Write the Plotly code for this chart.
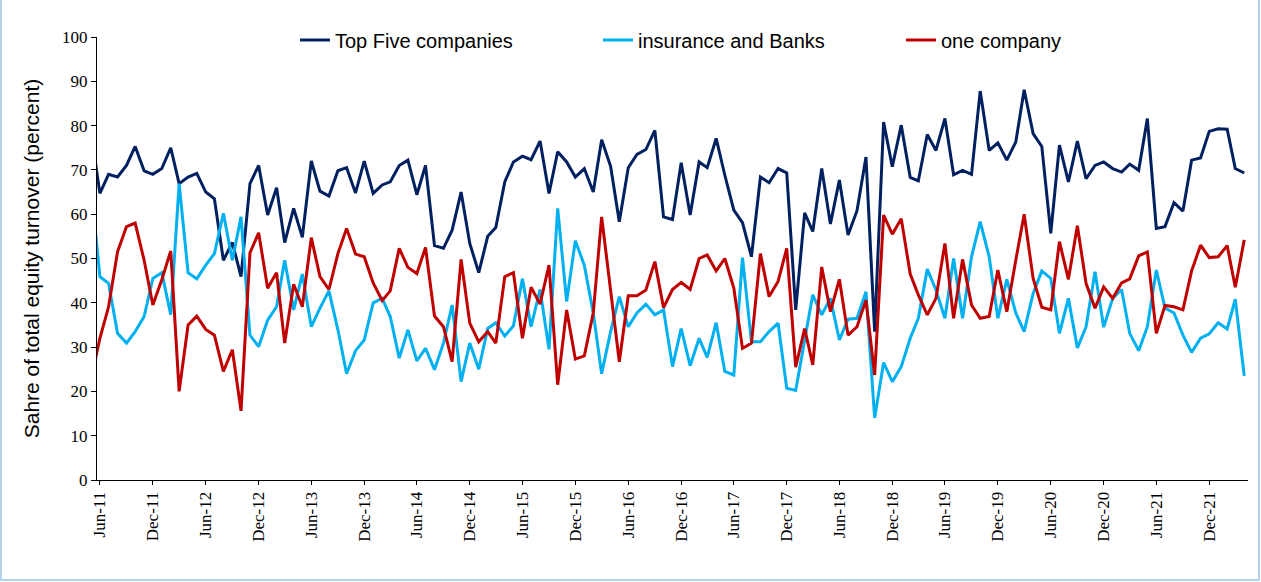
import pandas as pd
import plotly.graph_objects as go

# Monthly observations: May-11 (partly clipped at the axis) .. Apr-22
months = pd.date_range("2011-05-01", periods=132, freq="MS")

top_five = [
    78.7,
    64.7, 69.0, 68.4, 71.0, 75.3, 69.8, 69.0, 70.3, 75.0, 66.9, 68.4, 69.2,
    65.0, 63.5, 49.6, 53.6, 45.9, 66.9, 71.0, 59.8, 66.0, 53.6, 61.3, 54.8,
    72.0, 65.2, 64.1, 69.8, 70.5, 64.8, 72.0, 64.7, 66.6, 67.3, 71.0, 72.2,
    64.4, 71.0, 52.9, 52.3, 56.4, 65.0, 53.4, 46.8, 55.0, 57.0, 67.3, 71.8,
    73.1, 72.3, 76.5, 64.7, 74.1, 71.8, 68.4, 70.3, 65.0, 76.8, 70.8, 58.3,
    70.5, 73.5, 74.6, 78.9, 59.4, 58.8, 71.6, 59.8, 71.8, 70.5, 77.1, 68.8,
    60.9, 58.1, 50.4, 68.4, 67.1, 70.3, 69.3, 38.4, 60.3, 56.1, 70.3, 57.8,
    67.7, 55.3, 60.8, 72.9, 33.5, 80.8, 70.7, 80.1, 68.3, 67.5, 78.0, 74.4,
    81.6, 68.9, 69.9, 69.0, 87.8, 74.4, 76.1, 72.2, 76.3, 88.1, 78.2, 75.3,
    55.7, 75.6, 67.3, 76.5, 68.0, 71.0, 71.8, 70.3, 69.5, 71.3, 69.9, 81.6,
    56.8, 57.2, 62.6, 60.7, 72.2, 72.7, 78.7, 79.3, 79.2, 70.3, 69.3,
]

insurance_banks = [
    66.7,
    45.9, 44.4, 33.1, 30.9, 33.5, 36.9, 45.5, 46.8, 37.3, 66.9, 46.8, 45.4,
    48.5, 51.1, 60.2, 49.6, 59.4, 32.7, 30.1, 36.1, 39.1, 49.6, 38.4, 46.5,
    34.6, 38.8, 42.7, 33.9, 24.0, 29.2, 31.6, 40.0, 41.0, 36.9, 27.5, 33.9,
    26.9, 29.7, 24.9, 30.9, 39.5, 22.2, 30.9, 25.0, 34.2, 35.5, 32.5, 34.8,
    45.4, 34.6, 43.0, 29.5, 61.3, 40.3, 54.0, 48.5, 37.7, 24.0, 33.5, 41.4,
    34.6, 37.7, 39.7, 37.3, 38.4, 25.6, 34.2, 25.8, 32.0, 27.7, 35.5, 24.5,
    23.7, 50.2, 31.2, 31.2, 33.5, 35.4, 20.7, 20.2, 31.6, 41.8, 37.3, 41.0,
    31.6, 36.3, 36.5, 42.5, 14.0, 26.5, 22.2, 25.6, 32.0, 36.5, 47.6, 42.9,
    36.5, 50.0, 36.5, 50.4, 58.3, 50.4, 36.5, 45.3, 37.7, 33.5, 42.1, 47.2,
    45.5, 33.1, 41.0, 29.8, 34.6, 47.0, 34.5, 41.0, 43.0, 33.1, 29.2, 34.6,
    47.4, 38.8, 37.7, 32.7, 28.8, 32.0, 33.0, 35.5, 34.1, 40.8, 23.5,
]

one_company = [
    22.5,
    32.0, 39.1, 51.5, 57.2, 58.0, 49.6, 39.5, 45.2, 51.7, 20.0, 35.0, 37.0,
    34.0, 32.7, 24.5, 29.4, 15.6, 51.3, 55.8, 43.3, 46.8, 30.9, 44.2, 39.1,
    54.7, 45.9, 43.0, 51.1, 56.8, 51.0, 50.4, 44.5, 40.5, 42.7, 52.3, 48.0,
    46.6, 52.5, 37.0, 34.6, 26.7, 49.8, 35.4, 31.2, 33.5, 30.9, 45.9, 46.8,
    32.0, 43.5, 39.7, 48.5, 21.5, 38.4, 27.3, 28.0, 37.7, 59.4, 42.9, 26.7,
    41.6, 41.6, 42.9, 49.3, 38.9, 43.0, 44.6, 43.0, 50.0, 50.8, 47.2, 50.0,
    43.3, 29.7, 30.9, 51.1, 41.4, 44.8, 52.3, 25.5, 34.2, 26.0, 48.1, 38.0,
    45.3, 32.7, 34.6, 40.6, 23.7, 59.8, 55.5, 59.0, 46.5, 41.8, 37.3, 41.0,
    53.4, 36.5, 49.8, 39.5, 36.5, 36.9, 47.4, 38.0, 49.6, 60.0, 45.5, 39.0,
    38.4, 53.8, 45.3, 57.4, 44.4, 38.8, 43.6, 41.0, 44.5, 45.4, 50.6, 51.5,
    33.1, 39.4, 39.1, 38.4, 47.2, 53.0, 50.2, 50.4, 52.9, 43.5, 54.2,
]

series_names = ["Top Five companies", "insurance and Banks", "one company"]
series_colors = ["#002060", "#00B0F0", "#C00000"]
y_title = "Sahre of total equity turnover (percent)"

fig = go.Figure()
for name, vals, col in zip(series_names, [top_five, insurance_banks, one_company], series_colors):
    fig.add_trace(go.Scatter(
        x=months, y=vals, mode="lines", name=name,
        line=dict(color=col, width=3),
    ))

W, H = 1261, 582
L, R, T, B = 97, 13, 37, 102
pw, ph = W - L - R, H - T - B

fig.update_layout(
    width=W, height=H, autosize=False,
    margin=dict(l=L, r=R, t=T, b=B, pad=0),
    paper_bgcolor="white", plot_bgcolor="white",
    font=dict(family="Liberation Sans, Arial, sans-serif", color="black"),
    showlegend=True,
    legend=dict(
        orientation="h", x=0.172, xanchor="left", y=0.993, yanchor="middle",
        font=dict(size=20, family="Liberation Sans, Arial, sans-serif", color="black"),
        bgcolor="rgba(0,0,0,0)", entrywidth=258, entrywidthmode="pixels",
        itemwidth=30, tracegroupgap=0,
    ),
    xaxis=dict(
        type="date",
        range=["2011-05-22", "2022-04-14"],
        tick0="2011-06-01", dtick="M6", tickformat="%b-%y",
        tickangle=-90,
        tickfont=dict(family="Liberation Serif, Times New Roman, serif", size=17, color="black"),
        showgrid=False, zeroline=False,
        showline=True, linecolor="black", linewidth=1,
        ticks="outside", ticklen=4, tickcolor="black",
    ),
    yaxis=dict(
        range=[0, 100], dtick=10,
        tickfont=dict(family="Liberation Serif, Times New Roman, serif", size=17, color="black"),
        showgrid=False, zeroline=False,
        showline=True, linecolor="black", linewidth=1,
        ticks="outside", ticklen=5, tickcolor="black",
        title=dict(text=y_title, font=dict(size=21, family="Liberation Sans, Arial, sans-serif"), standoff=16),
    ),
)

# thin light-blue chart border
fig.add_shape(
    type="rect", xref="paper", yref="paper",
    x0=(1 - L) / pw, x1=(W - 2 - L) / pw,
    y0=-(H - 2 - T - ph) / ph, y1=(T + 3) / ph + 1,
    line=dict(color="#9DC3E6", width=1.5), fillcolor="rgba(0,0,0,0)", layer="below",
)

fig.write_html(
    "out.html",
    config={"displayModeBar": False},
    post_script="document.body.style.margin='0';document.body.style.padding='0';document.documentElement.style.overflow='hidden';",
)
